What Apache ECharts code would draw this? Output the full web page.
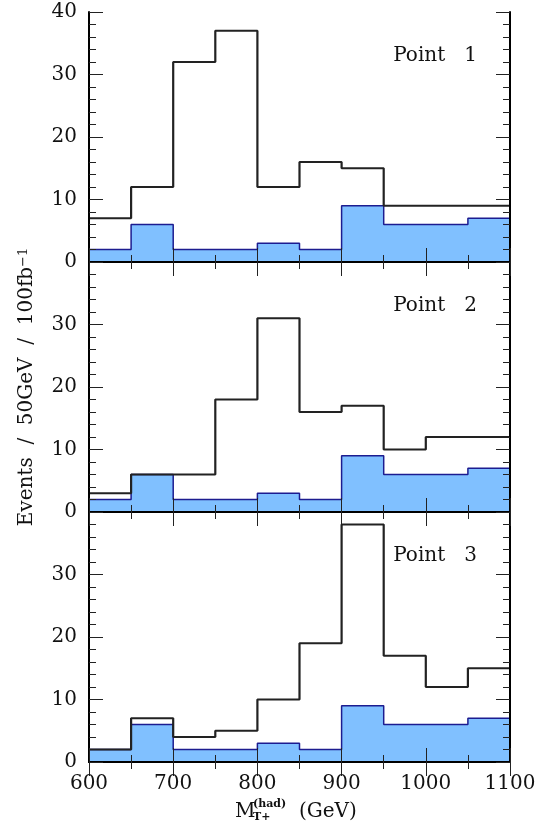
<!DOCTYPE html>
<html>
<head>
<meta charset="utf-8">
<script src="https://cdn.jsdelivr.net/npm/echarts@6/dist/echarts.min.js"></script>
<style>
  html, body { margin: 0; padding: 0; background: #fff; }
  #chart { width: 549px; height: 827px; }
</style>
</head>
<body>
<div id="chart"></div>
<script>
// bin edges in GeV (50 GeV bins)
var binEdges = [600, 650, 700, 750, 800, 850, 900, 950, 1000, 1050, 1100];
// background, same for all three panels
var background = [2, 6, 2, 2, 3, 2, 9, 6, 6, 7];
// signal + background
var point1 = [7, 12, 32, 37, 12, 16, 15, 9, 9, 9];
var point2 = [3, 6, 6, 18, 31, 16, 17, 10, 12, 12];
var point3 = [2, 7, 4, 5, 10, 19, 38, 17, 12, 15];
var panelNames = ['Point   1', 'Point   2', 'Point   3'];
var panels = [point1, point2, point3];

var FONT = '"DejaVu Serif", serif';
var gridTops = [12, 262, 512];

// histogram -> step points, last edge repeats the last bin
function histData(vals) {
  return binEdges.map(function (e, i) {
    return [e, vals[Math.min(i, vals.length - 1)]];
  });
}

var grids = [], xAxes = [], yAxes = [], series = [], titles = [];

gridTops.forEach(function (top, k) {
  grids.push({ left: 89, width: 421, top: top, height: 250 });

  var lastPanel = k === gridTops.length - 1;
  var xBase = {
    type: 'value', gridIndex: k, min: 600, max: 1100, interval: 100, z: 10,
    axisLine: { show: true, lineStyle: { color: '#000', width: 2 } },
    axisTick: { show: true, inside: true, length: 14, lineStyle: { color: '#222', width: 1 } },
    minorTick: { show: true, splitNumber: 2, length: 7, lineStyle: { color: '#222', width: 1 } },
    splitLine: { show: false }
  };
  xAxes.push(Object.assign({}, xBase, {
    position: 'bottom',
    axisLabel: {
      show: lastPanel, fontFamily: FONT, fontSize: 20, color: '#111', margin: 12,
      formatter: function (v) { return String(v); }
    }
  }));
  xAxes.push(Object.assign({}, xBase, { position: 'top', axisLabel: { show: false } }));

  var yBase = {
    type: 'value', gridIndex: k, min: 0, max: 40, interval: 10, z: 10,
    axisLine: { show: true, lineStyle: { color: '#000', width: 2 } },
    axisTick: { show: true, inside: true, length: 14, lineStyle: { color: '#222', width: 1 } },
    minorTick: { show: true, splitNumber: 5, length: 7, lineStyle: { color: '#222', width: 1 } },
    splitLine: { show: false }
  };
  var yLeft = Object.assign({}, yBase, {
    position: 'left',
    axisLabel: { fontFamily: FONT, fontSize: 20, color: '#111', margin: 12, showMaxLabel: k === 0 }
  });
  if (k === 1) {
    yLeft.name = 'Events  /  50GeV  /  100fb{sup|−1}';
    yLeft.nameLocation = 'middle';
    yLeft.nameRotate = 90;
    yLeft.nameGap = 52;
    yLeft.nameTextStyle = {
      fontFamily: FONT, fontSize: 20, color: '#111',
      rich: { sup: { fontFamily: FONT, fontSize: 13, color: '#111', verticalAlign: 'top' } }
    };
  }
  yAxes.push(yLeft);
  yAxes.push(Object.assign({}, yBase, { position: 'right', axisLabel: { show: false } }));

  // blue background histogram
  series.push({
    type: 'line', xAxisIndex: 2 * k, yAxisIndex: 2 * k, step: 'end',
    showSymbol: false, z: 2, data: histData(background),
    lineStyle: { color: '#1c1c90', width: 1.5 },
    areaStyle: { color: '#80c0ff', opacity: 1 }
  });
  // total (black)
  series.push({
    type: 'line', xAxisIndex: 2 * k, yAxisIndex: 2 * k, step: 'end',
    showSymbol: false, z: 3, data: histData(panels[k]),
    lineStyle: { color: '#222', width: 2.2 }
  });

  titles.push({
    text: panelNames[k], right: 72, top: top + 34, padding: 0,
    textStyle: { fontFamily: FONT, fontSize: 20, fontWeight: 'normal', color: '#111' }
  });
});

var chart = echarts.init(document.getElementById('chart'));
chart.setOption({
  animation: false,
  title: titles,
  grid: grids,
  xAxis: xAxes,
  yAxis: yAxes,
  series: series,
  // x axis title M_T+^(had) (GeV)
  graphic: [
    { type: 'text', left: 235, top: 802, style: { text: 'M', font: '20px ' + FONT, fill: '#111' } },
    { type: 'text', left: 253, top: 799, style: { text: '(had)', font: 'bold 11px ' + FONT, fill: '#111' } },
    { type: 'text', left: 253, top: 812, style: { text: 'T+', font: 'bold 11px ' + FONT, fill: '#111' } },
    { type: 'text', left: 299, top: 802, style: { text: '(GeV)', font: '20px ' + FONT, fill: '#111' } }
  ]
});
</script>
</body>
</html>
